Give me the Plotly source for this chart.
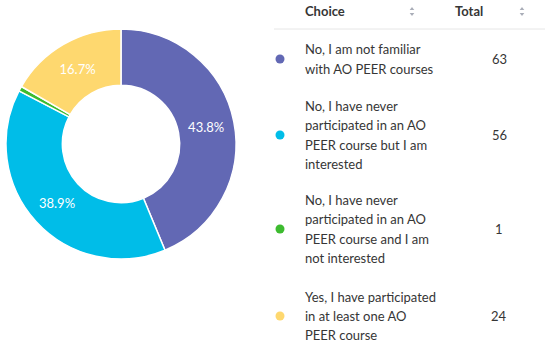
import plotly.graph_objects as go

# ---- data ----
choices = [
    "No, I am not familiar<br>with AO PEER courses",
    "No, I have never<br>participated in an AO<br>PEER course but I am<br>interested",
    "No, I have never<br>participated in an AO<br>PEER course and I am<br>not interested",
    "Yes, I have participated<br>in at least one AO<br>PEER course",
]
totals = [63, 56, 1, 24]
colors = ["#6268B4", "#00BDE8", "#3DBB2F", "#FED86F"]
header_labels = ["Choice", "Total"]

W, H = 550, 345
FONT = "Lato"
TXT = "#363636"

total_sum = sum(totals)
pie_text = [f"{v / total_sum * 100:.1f}%" if v / total_sum >= 0.02 else "" for v in totals]

fig = go.Figure()

# donut
cx, cy, r = 121, 144, 115
fig.add_trace(go.Pie(
    values=totals,
    labels=[c.replace("<br>", " ") for c in choices],
    marker=dict(colors=colors, line=dict(color="white", width=1.5)),
    hole=0.51,
    sort=False,
    direction="clockwise",
    text=pie_text,
    textinfo="text",
    textposition="inside",
    insidetextorientation="horizontal",
    textfont=dict(family=FONT, size=13, color="white"),
    showlegend=False,
    hoverinfo="label+value+percent",
    domain=dict(x=[(cx - r) / W, (cx + r) / W], y=[1 - (cy + r) / H, 1 - (cy - r) / H]),
))

# table layout (pixel positions)
row_centers = [59, 135, 229, 316]
line_gap = 19.3
text_x = 303
dot_x = 280
val_x = 499

fig.add_trace(go.Scatter(
    x=[dot_x] * len(totals), y=row_centers, mode="markers",
    marker=dict(size=9, color=colors), hoverinfo="skip", showlegend=False,
    xaxis="x", yaxis="y",
))

annotations = []
for label, val, yc in zip(choices, totals, row_centers):
    lines = label.split("<br>")
    n = len(lines)
    for i, ln in enumerate(lines):
        y = yc + (i - (n - 1) / 2) * line_gap
        annotations.append(dict(x=text_x, y=y, xref="x", yref="y", text=ln, showarrow=False,
                                xanchor="left", yanchor="middle",
                                font=dict(family=FONT, size=13, color=TXT)))
    annotations.append(dict(x=val_x, y=yc, xref="x", yref="y", text=str(val), showarrow=False,
                            xanchor="center", yanchor="middle",
                            font=dict(family=FONT, size=13, color=TXT)))

# header
annotations.append(dict(x=text_x, y=11, xref="x", yref="y", text=f"<b>{header_labels[0]}</b>",
                        showarrow=False, xanchor="left", yanchor="middle",
                        font=dict(family=FONT, size=13, color=TXT)))
annotations.append(dict(x=453, y=11, xref="x", yref="y", text=f"<b>{header_labels[1]}</b>",
                        showarrow=False, xanchor="left", yanchor="middle",
                        font=dict(family=FONT, size=13, color=TXT)))

# sort icons
for sx in [412, 522]:
    fig.add_trace(go.Scatter(x=[sx, sx], y=[9, 14], mode="markers",
                             marker=dict(symbol=["triangle-up", "triangle-down"], size=4, color="#a9adb8"),
                             hoverinfo="skip", showlegend=False, xaxis="x", yaxis="y"))

shapes = [dict(type="line", xref="x", yref="y", x0=274, x1=545, y0=29, y1=29,
               line=dict(color="#e6e6e6", width=1))]

fig.update_layout(
    width=W, height=H,
    margin=dict(l=0, r=0, t=0, b=0),
    paper_bgcolor="white", plot_bgcolor="rgba(0,0,0,0)",
    xaxis=dict(range=[0, W], visible=False, fixedrange=True, domain=[0, 1]),
    yaxis=dict(range=[H, 0], visible=False, fixedrange=True, domain=[0, 1]),
    annotations=annotations,
    shapes=shapes,
    font=dict(family=FONT),
)

fig.write_html("out.html", config={"displayModeBar": False},
               post_script="document.body.style.margin='0';document.body.style.overflow='hidden';")
